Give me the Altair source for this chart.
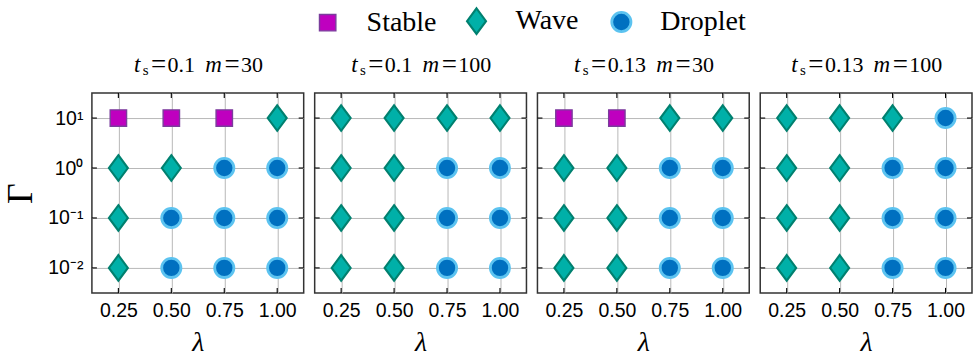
import altair as alt
import pandas as pd

# ------------------------------------------------------------------ data
lambdas = [0.25, 0.50, 0.75, 1.00]
gammas = [10, 1, 0.1, 0.01]
gamma_tick_labels = ["10¹", "10⁰", "10⁻¹", "10⁻²"]
ts_values = ["0.1", "0.1", "0.13", "0.13"]
m_values = ["30", "100", "30", "100"]
categories = ["Stable", "Wave", "Droplet"]

# rows follow `gammas` (top to bottom), columns follow `lambdas`
states_ts010_m30 = [
    ["Stable", "Stable", "Stable", "Wave"],
    ["Wave", "Wave", "Droplet", "Droplet"],
    ["Wave", "Droplet", "Droplet", "Droplet"],
    ["Wave", "Droplet", "Droplet", "Droplet"],
]
states_ts010_m100 = [
    ["Wave", "Wave", "Wave", "Wave"],
    ["Wave", "Wave", "Droplet", "Droplet"],
    ["Wave", "Wave", "Droplet", "Droplet"],
    ["Wave", "Wave", "Droplet", "Droplet"],
]
states_ts013_m30 = [
    ["Stable", "Stable", "Wave", "Wave"],
    ["Wave", "Wave", "Droplet", "Droplet"],
    ["Wave", "Wave", "Droplet", "Droplet"],
    ["Wave", "Wave", "Droplet", "Droplet"],
]
states_ts013_m100 = [
    ["Wave", "Wave", "Wave", "Droplet"],
    ["Wave", "Wave", "Droplet", "Droplet"],
    ["Wave", "Wave", "Droplet", "Droplet"],
    ["Wave", "Wave", "Droplet", "Droplet"],
]
panel_states = [states_ts010_m30, states_ts010_m100, states_ts013_m30, states_ts013_m100]

# ------------------------------------------------------------------ styles
W, H = 212, 200
X_DOMAIN = [0.125, 1.125]
Y_DOMAIN = [10 ** -2.5, 10 ** 1.5]
fill_colors = ["#bf00bf", "#00b0a8", "#0070c0"]
edge_colors = ["#7a3d9c", "#00806f", "#5cc3f0"]
edge_width_range = [1.4, 2.8]
marker_shapes = [
    "M-0.82,-0.82L0.82,-0.82L0.82,0.82L-0.82,0.82Z",
    "M0,-1.28L0.95,0L0,1.28L-0.95,0Z",
    "M0.96,0A0.96,0.96,0,1,1,-0.96,0A0.96,0.96,0,1,1,0.96,0Z",
]
MARK_SIZE = 400
SANS = "Liberation Sans"
SERIF = "Liberation Serif"
GRID = "#b8b8b8"

xs = alt.Scale(domain=X_DOMAIN, nice=False, zero=False)
ys = alt.Scale(type="log", domain=Y_DOMAIN, nice=False)

legend = alt.Legend(
    orient="none", legendX=222, legendY=-86, direction="horizontal", title=None,
    labelFont=SERIF, labelFontSize=28, labelColor="black", labelOffset=25,
    columnPadding=26, symbolSize=MARK_SIZE, labelLimit=300,
)

expr = "".join(
    f"abs(datum.value - {g}) < {g * 0.01} ? '{lab}' : "
    for g, lab in zip(gammas, gamma_tick_labels)
) + "''"

xaxis = alt.Axis(
    values=lambdas, format=".2f", title="λ", grid=True, labelPadding=9,
    titleFontStyle="italic", titleFontSize=28, titlePadding=8,
)
yaxis_first = alt.Axis(
    values=gammas, labelExpr=expr, title="Γ", grid=True, labelPadding=9,
    titleFontSize=36, titlePadding=8,
)
yaxis_other = alt.Axis(values=gammas, grid=True, labels=False, title=None)

# title layout (pixel widths of the pieces)
piece_w = {"t": 9, "s": 8, "=": 18, " ": 9, "m": 19, ".": 5.5}


def text_w(s):
    return sum(piece_w.get(c, 11) for c in s)


def title_frame(ts, m):
    pieces = [("t", "it"), ("s", "sub"), ("=", "eq"), (ts, "up"), (" ", "gap"),
              ("m", "it"), ("=", "eq"), (m, "up")]
    total = sum(text_w(t) for t, _ in pieces)
    x = W / 2 - total / 2
    rows = []
    for t, kind in pieces:
        w = text_w(t)
        cx = x + w / 2
        x += w
        if kind == "gap":
            continue
        lam = X_DOMAIN[0] + cx / W * (X_DOMAIN[1] - X_DOMAIN[0])
        rows.append({"txt": t, "kind": kind, "pos": lam})
    return pd.DataFrame(rows)


title_styles = {
    "it": dict(fontSize=23, fontStyle="italic", y=-21),
    "up": dict(fontSize=22, fontStyle="normal", y=-21),
    "eq": dict(fontSize=27, fontStyle="normal", y=-20),
    "sub": dict(fontSize=15, fontStyle="normal", y=-18),
}

df_lam = pd.DataFrame({"lam": lambdas})
df_gam = pd.DataFrame({"gam": gammas})

panels = []
for p in range(4):
    yaxis = yaxis_first if p == 0 else yaxis_other
    rows = []
    for gi, g in enumerate(gammas):
        for li, l in enumerate(lambdas):
            rows.append({"lam": l, "gam": g, "state": panel_states[p][gi][li]})
    dfp = pd.DataFrame(rows)

    pts = alt.Chart(dfp).mark_point(filled=True, opacity=1, size=MARK_SIZE).encode(
        x=alt.X("lam:Q", scale=xs, axis=xaxis),
        y=alt.Y("gam:Q", scale=ys, axis=yaxis),
        shape=alt.Shape("state:N", scale=alt.Scale(domain=categories, range=marker_shapes), legend=legend),
        fill=alt.Fill("state:N", scale=alt.Scale(domain=categories, range=fill_colors), legend=legend),
        stroke=alt.Stroke("state:N", scale=alt.Scale(domain=categories, range=edge_colors), legend=legend),
        strokeWidth=alt.StrokeWidth(
            "state:N",
            scale=alt.Scale(type="point", domain=categories, range=edge_width_range, padding=0),
            legend=legend,
        ),
    )

    tick_kw = dict(color="black", strokeWidth=1.1)
    t_bottom = alt.Chart(df_lam).mark_rule(**tick_kw).encode(
        x=alt.X("lam:Q", scale=xs, axis=xaxis), y=alt.value(H), y2=alt.value(H - 5))
    t_top = alt.Chart(df_lam).mark_rule(**tick_kw).encode(
        x=alt.X("lam:Q", scale=xs, axis=xaxis), y=alt.value(0), y2=alt.value(5))
    t_left = alt.Chart(df_gam).mark_rule(**tick_kw).encode(
        y=alt.Y("gam:Q", scale=ys, axis=yaxis), x=alt.value(0), x2=alt.value(5))
    t_right = alt.Chart(df_gam).mark_rule(**tick_kw).encode(
        y=alt.Y("gam:Q", scale=ys, axis=yaxis), x=alt.value(W), x2=alt.value(W - 5))

    tdf = title_frame(ts_values[p], m_values[p])
    title_layers = []
    for kind, st in title_styles.items():
        title_layers.append(
            alt.Chart(tdf).transform_filter(alt.datum.kind == kind).mark_text(
                font=SERIF, fontSize=st["fontSize"], fontStyle=st["fontStyle"],
                color="black", align="center", baseline="alphabetic",
            ).encode(
                x=alt.X("pos:Q", scale=xs, axis=xaxis),
                y=alt.value(st["y"]),
                text="txt:N",
            )
        )

    panels.append(
        alt.layer(pts, t_bottom, t_top, t_left, t_right, *title_layers).properties(width=W, height=H)
    )

chart = (
    alt.hconcat(*panels, spacing=7)
    .configure_view(stroke="#333333", strokeWidth=1.5)
    .configure_axis(
        grid=True, gridColor=GRID, gridWidth=1, ticks=False, domain=False,
        labelFont=SANS, labelFontSize=19.5, labelColor="black",
        titleFont=SERIF, titleFontWeight="normal", titleColor="black",
    )
    .configure_legend(
        labelFont=SERIF, labelFontSize=28, labelColor="black", labelLimit=300,
    )
    .properties(padding={"left": 2, "top": 7, "right": 1, "bottom": 0})
)

chart.save("out.html", embed_options={"renderer": "svg", "actions": False})
